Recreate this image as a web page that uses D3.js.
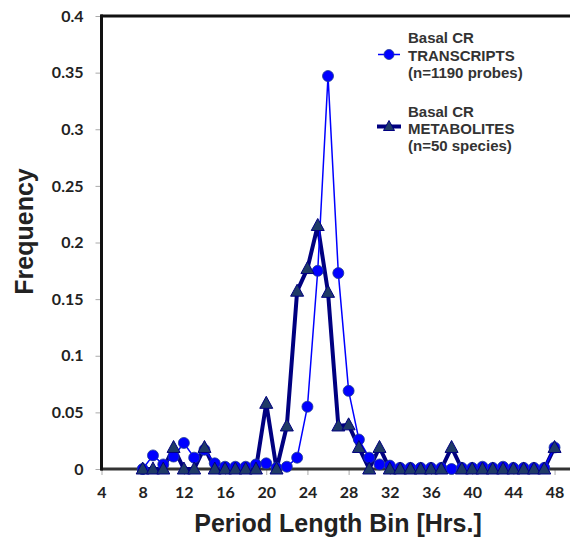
<!DOCTYPE html>
<html>
<head>
<meta charset="utf-8">
<script src="https://cdn.jsdelivr.net/npm/d3@7"></script>
<style>
  html, body { margin: 0; padding: 0; background: #fff; }
  svg { display: block; }
</style>
</head>
<body>
<svg id="chart" width="570" height="546"></svg>
<script>
// ---- data ----
const bins = d3.range(8, 49); // period-length bins 8..48 hrs
const transcripts = [
  0, 0.012, 0.004, 0.011, 0.023, 0.010, 0.017, 0.005, 0.002, 0.002,
  0.002, 0.004, 0.005, 0.001, 0.002, 0.010, 0.055, 0.175, 0.347, 0.173,
  0.069, 0.026, 0.010, 0.004, 0.003, 0.001, 0.001, 0.001, 0.001, 0.001,
  0, 0.001, 0.001, 0.002, 0.001, 0.002, 0.001, 0.001, 0.001, 0.001,
  0.019
];
const metabolites = [
  0, 0, 0, 0.019, 0, 0, 0.019, 0, 0, 0,
  0, 0, 0.058, 0, 0.038, 0.157, 0.177, 0.215, 0.156, 0.038,
  0.039, 0.019, 0, 0.019, 0, 0, 0, 0, 0, 0,
  0.019, 0, 0, 0, 0, 0, 0, 0, 0, 0,
  0.019
];
const xTicks = [4, 8, 12, 16, 20, 24, 28, 32, 36, 40, 44, 48];
const yTicks = [0, 0.05, 0.1, 0.15, 0.2, 0.25, 0.3, 0.35, 0.4];
const seriesNames = [
  ["Basal CR", "TRANSCRIPTS", "(n=1190 probes)"],
  ["Basal CR", "METABOLITES", "(n=50 species)"]
];

// ---- layout ----
const svg = d3.select("#chart");
const pL = 101.5, pR = 570, pT = 16, pB = 469;
const x = d3.scaleLinear().domain([4, 49.5]).range([pL, pR]);
const y = d3.scaleLinear().domain([0, 0.4]).range([pB, pT]);

const tickFont = "Lato, 'Open Sans', sans-serif";
const titleFont = "'Liberation Sans', Arial, sans-serif";

// y axis ticks + labels
const yAxis = d3.axisLeft(y).tickValues(yTicks).tickSize(5).tickPadding(12)
  .tickFormat(d => d === 0 ? "0" : String(+d.toFixed(2)));
const gy = svg.append("g").attr("transform", `translate(${pL - 1},0)`).call(yAxis);
gy.select(".domain").remove();
gy.selectAll(".tick line").attr("stroke", "#aaa").attr("stroke-width", 1);
gy.selectAll(".tick text").attr("font-family", tickFont).attr("font-weight", "bold")
  .attr("font-size", 16).attr("fill", "#222");

// x axis ticks + labels
const xAxis = d3.axisBottom(x).tickValues(xTicks).tickSize(5).tickPadding(12);
const gx = svg.append("g").attr("transform", `translate(0,${pB + 1})`).call(xAxis);
gx.select(".domain").remove();
gx.selectAll(".tick line").attr("stroke", "#aaa").attr("stroke-width", 1);
gx.selectAll(".tick text").attr("font-family", tickFont).attr("font-weight", "bold")
  .attr("font-size", 16).attr("fill", "#222");

// frame lines
svg.append("line").attr("x1", pL - 1).attr("x2", pR).attr("y1", pB).attr("y2", pB)
  .attr("stroke", "#333").attr("stroke-width", 3);
svg.append("line").attr("x1", pL - 1).attr("x2", pR).attr("y1", pT).attr("y2", pT)
  .attr("stroke", "#111").attr("stroke-width", 3);
svg.append("line").attr("x1", pL).attr("x2", pL).attr("y1", pT - 1.5).attr("y2", pB + 1.5)
  .attr("stroke", "#111").attr("stroke-width", 3);

// series
const tData = bins.map((b, i) => [b, transcripts[i]]);
const mData = bins.map((b, i) => [b, metabolites[i]]);
const line = d3.line().x(d => x(d[0])).y(d => y(d[1])).curve(d3.curveLinear);

const navy = "#000080", blue = "#0000ff", triFill = "#1f3b66";
const triPath = "M0,-7 L6.5,5 L-6.5,5 Z";

svg.append("path").datum(mData).attr("d", line).attr("fill", "none")
  .attr("stroke", navy).attr("stroke-width", 4).attr("stroke-linejoin", "round");
svg.append("path").datum(tData).attr("d", line).attr("fill", "none")
  .attr("stroke", blue).attr("stroke-width", 1.5).attr("stroke-linejoin", "round");

svg.append("g").selectAll("circle").data(tData).join("circle")
  .attr("cx", d => x(d[0])).attr("cy", d => y(d[1])).attr("r", 5.5)
  .attr("fill", blue).attr("stroke", "#1f3b8f").attr("stroke-width", 0.8);
svg.append("g").selectAll("path").data(mData).join("path")
  .attr("transform", d => `translate(${x(d[0])},${y(d[1])})`)
  .attr("d", triPath).attr("fill", triFill).attr("stroke", navy).attr("stroke-width", 1);

// legend
const leg = svg.append("g");
const legY = [54.5, 126.5];
const legBase = [[43, 60.5, 77.5], [117, 133.5, 150.5]];
leg.append("line").attr("x1", 378).attr("x2", 400).attr("y1", legY[0]).attr("y2", legY[0])
  .attr("stroke", blue).attr("stroke-width", 1.5);
leg.append("circle").attr("cx", 389).attr("cy", legY[0]).attr("r", 5)
  .attr("fill", blue).attr("stroke", "#1f3b8f").attr("stroke-width", 0.8);
leg.append("line").attr("x1", 377).attr("x2", 401).attr("y1", legY[1]).attr("y2", legY[1])
  .attr("stroke", navy).attr("stroke-width", 4);
leg.append("path").attr("transform", `translate(389,${legY[1]})`).attr("d", "M0,-6 L5.5,4 L-5.5,4 Z")
  .attr("fill", triFill).attr("stroke", navy).attr("stroke-width", 1);
seriesNames.forEach((lines, si) => {
  lines.forEach((t, li) => {
    leg.append("text").attr("x", 408).attr("y", legBase[si][li]).text(t)
      .attr("font-family", titleFont).attr("font-weight", "bold")
      .attr("font-size", 15).attr("fill", "#333");
  });
});

// axis titles
svg.append("text").attr("x", 338).attr("y", 532).attr("text-anchor", "middle")
  .attr("font-family", titleFont).attr("font-weight", "bold").attr("font-size", 25)
  .attr("fill", "#222").text("Period Length Bin [Hrs.]");
svg.append("text").attr("transform", "translate(33,231.5) rotate(-90)").attr("text-anchor", "middle")
  .attr("font-family", titleFont).attr("font-weight", "bold").attr("font-size", 25)
  .attr("fill", "#222").text("Frequency");
</script>
</body>
</html>
